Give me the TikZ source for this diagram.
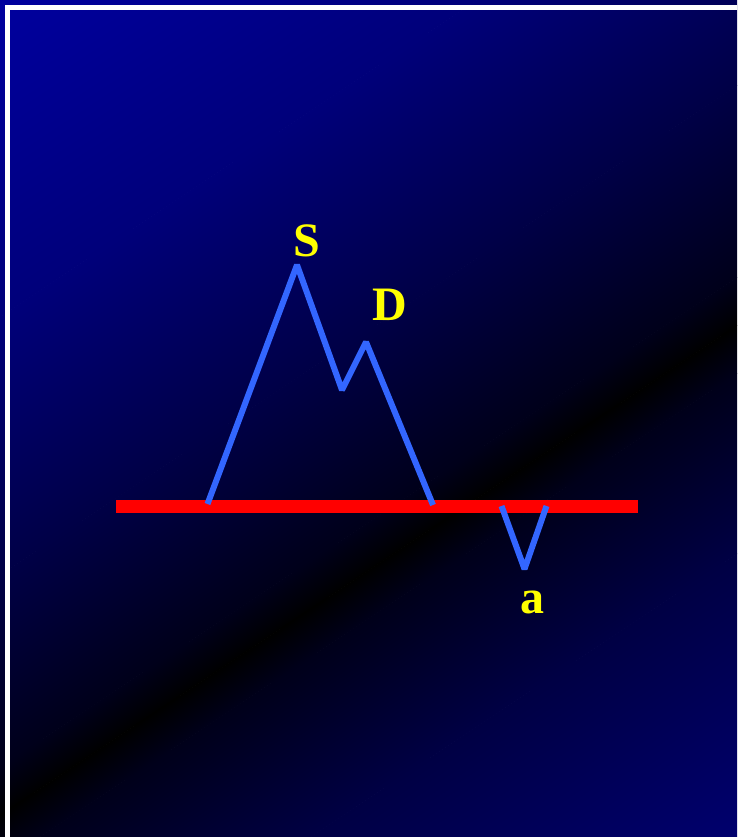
\documentclass[tikz,border=0pt]{standalone}
\usepackage{fontspec}
\setmainfont{Liberation Serif}
\definecolor{bgA}{RGB}{0,0,164}
\definecolor{bgB}{RGB}{0,0,122}
\definecolor{bgC}{RGB}{0,0,70}
\definecolor{bgD}{RGB}{0,0,26}
\definecolor{bgE}{RGB}{0,0,26}
\definecolor{bgF}{RGB}{0,0,68}
\definecolor{bgG}{RGB}{0,0,114}
\definecolor{peakblue}{RGB}{51,102,255}
\definecolor{lab}{RGB}{255,255,0}
\begin{document}
\begin{tikzpicture}[x=1pt,y=-1pt,
  lbl/.style={text=lab,font=\fontsize{48}{48}\selectfont\bfseries,inner sep=0pt,anchor=base},
  trace/.style={draw=peakblue,line width=6pt,line join=bevel},
  axisline/.style={draw=red,line width=13pt},
  frame/.style={draw=white,line width=5pt}]
\useasboundingbox (0,0) rectangle (737,837);
\begin{scope}
  \clip (0,0) rectangle (737,837);
  \begin{scope}[transform canvas={shift={(0,815)},rotate=33.6}]
    \shade[top color=bgA,bottom color=bgB] (-200,-720) rectangle (1300,-414.5);
    \shade[top color=bgB,bottom color=bgC] (-200,-415) rectangle (1300,-199.5);
    \shade[top color=bgC,bottom color=bgD] (-200,-200) rectangle (1300,-39.5);
    \shade[top color=bgD,bottom color=black] (-200,-40) rectangle (1300,0.5);
    \shade[top color=black,bottom color=bgE] (-200,0) rectangle (1300,40.5);
    \shade[top color=bgE,bottom color=bgF] (-200,40) rectangle (1300,190.5);
    \shade[top color=bgF,bottom color=bgG] (-200,190) rectangle (1300,450);
  \end{scope}
  \coordinate (f1) at (7.5,845);
  \coordinate (f2) at (7.5,7.5);
  \coordinate (f3) at (745,7.5);
  \draw[frame] (f1) -- (f2) -- (f3);
\end{scope}
% axis
\coordinate (rl) at (116,506);
\coordinate (rr) at (638,506);
\draw[axisline] (rl) -- (rr);
% peaks
\coordinate (p1) at (207.5,504);
\coordinate (p2) at (297,265);
\coordinate (p3) at (342,390);
\coordinate (p4) at (366,342);
\coordinate (p5) at (433,505);
\draw[trace] (p1) -- (p2) -- (p3) -- (p4) -- (p5);
% dip
\coordinate (v1) at (501.5,506);
\coordinate (v2) at (524.5,569);
\coordinate (v3) at (546.5,506);
\draw[trace] (v1) -- (v2) -- (v3);
% labels
\node[lbl] (S) at (307,256) {S};
\node[lbl] (D) at (390,320) {D};
\node[lbl] (a) at (532.5,613) {a};
\end{tikzpicture}
\end{document}
